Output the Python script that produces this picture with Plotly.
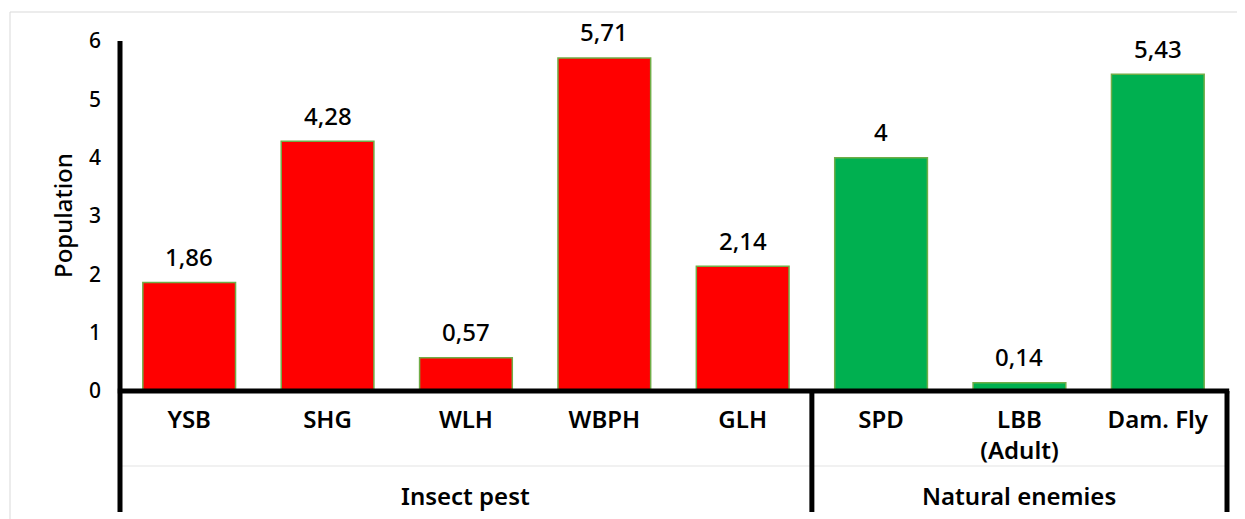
import plotly.graph_objects as go

categories = ["YSB", "SHG", "WLH", "WBPH", "GLH", "SPD", "LBB<br>(Adult)", "Dam. Fly"]
groups = ["Insect pest"] * 5 + ["Natural enemies"] * 3
group_names = ["Insect pest", "Natural enemies"]
values = [1.86, 4.28, 0.57, 5.71, 2.14, 4, 0.14, 5.43]
group_colors = {"Insect pest": "#FF0000", "Natural enemies": "#00B050"}
y_ticks = [0, 1, 2, 3, 4, 5, 6]

FONT = "Noto Sans"
OFF = 8  # default page body margin
W, H = 1245 - OFF, 519 - OFF
L, R, T, B = 120 - OFF, 18, 41 - OFF, 128
pw, ph = W - L - R, H - T - B

def px_to_py(py):
    # page pixel y -> paper y
    return (H - B - (py - OFF)) / ph

def px_to_px(px):
    # page pixel x -> paper x
    return (px - OFF - L) / pw

fig = go.Figure()
fig.add_trace(go.Bar(
    x=categories, y=values,
    marker=dict(color=[group_colors[g] for g in groups],
                line=dict(color="#70AD47", width=1.5)),
    width=0.67, hoverinfo="x+y",
))

annotations = []
for c, v in zip(categories, values):
    annotations.append(dict(
        x=c, y=v, xref="x", yref="y", yshift=26, yanchor="middle", xanchor="center",
        text=f"{v:g}".replace(".", ","), showarrow=False,
        font=dict(family=FONT, size=24, color="black", weight=500),
    ))

n = len(categories)
start = 0
for g in group_names:
    cnt = groups.count(g)
    center = (start + cnt / 2) / n
    annotations.append(dict(
        x=center, y=px_to_py(495), xref="paper", yref="paper",
        text=g, showarrow=False, yanchor="middle", xanchor="center",
        font=dict(family=FONT, size=24, color="black", weight=600),
    ))
    start += cnt

annotations.append(dict(
    x=px_to_px(62), y=0.5, xref="paper", yref="paper", textangle=-90,
    text="Population", showarrow=False, xanchor="center", yanchor="middle",
    font=dict(family=FONT, size=24, color="black", weight=500),
))

bottom = px_to_py(512)
shapes = [
    # outer light border
    dict(type="rect", xref="paper", yref="paper", x0=px_to_px(10), x1=1.2,
         y0=-0.6, y1=px_to_py(12), line=dict(color="#D9D9D9", width=1), layer="below"),
    # faint row separator
    dict(type="line", xref="paper", yref="paper", x0=0, x1=1,
         y0=px_to_py(466), y1=px_to_py(466), line=dict(color="#E3E3E3", width=1)),
    # x axis line
    dict(type="line", xref="paper", yref="paper", x0=-0.002, x1=1.002, y0=0, y1=0,
         line=dict(color="black", width=5), layer="above"),
    # y axis + left category border
    dict(type="line", xref="paper", yref="paper", x0=0, x1=0, y0=1, y1=bottom,
         line=dict(color="black", width=5), layer="above"),
]
start = 0
for g in group_names:
    start += groups.count(g)
    xp = start / n
    shapes.append(dict(type="line", xref="paper", yref="paper", x0=xp, x1=xp,
                       y0=0, y1=bottom, line=dict(color="black", width=5), layer="above"))

fig.update_layout(
    width=W, height=H,
    margin=dict(l=L, r=R, t=T, b=B),
    paper_bgcolor="white", plot_bgcolor="white",
    showlegend=False, bargap=0.33,
    font=dict(family=FONT, color="black"),
    annotations=annotations, shapes=shapes,
    xaxis=dict(
        range=[-0.5, n - 0.5], showgrid=False, showline=False, zeroline=False,
        ticks="", tickfont=dict(family=FONT, size=24, color="black", weight=600),
        ticklabelstandoff=12, fixedrange=True,
    ),
    yaxis=dict(
        range=[0, 6], tickvals=y_ticks, showgrid=False, showline=False, zeroline=False,
        ticks="", tickfont=dict(family=FONT, size=21, color="black", weight=500),
        ticklabelstandoff=18, fixedrange=True,
    ),
)

fig.write_html("out.html")
